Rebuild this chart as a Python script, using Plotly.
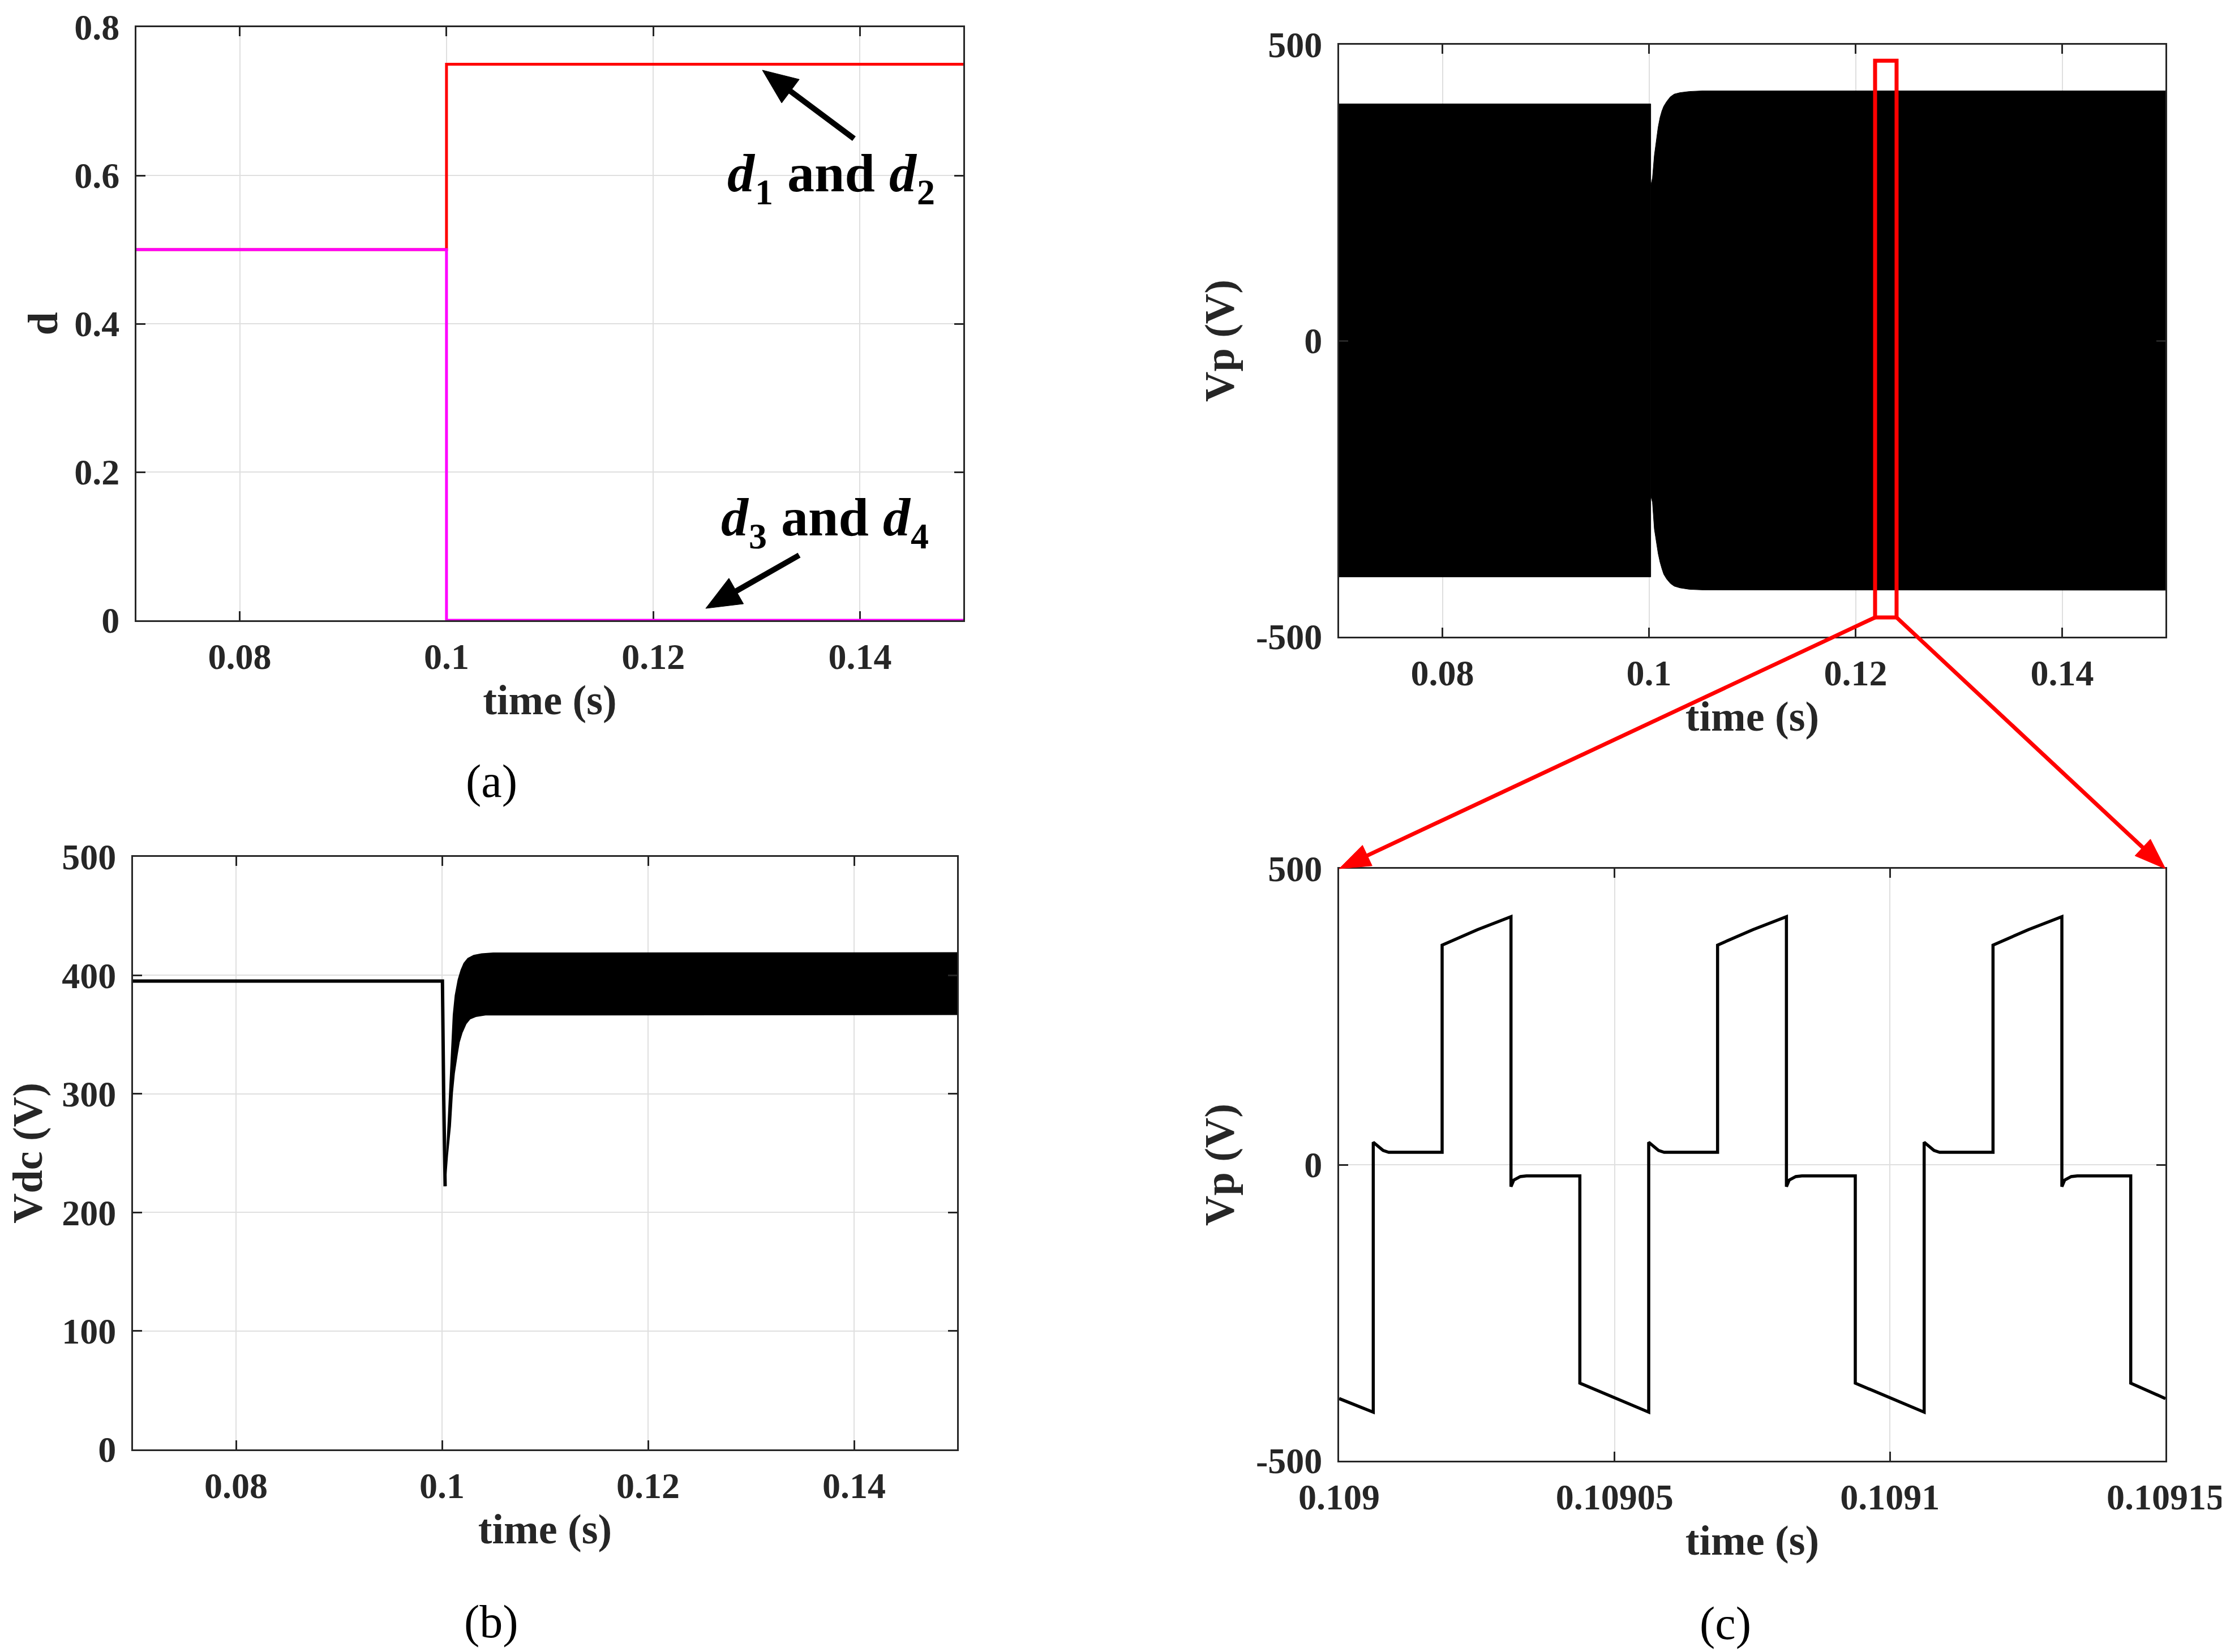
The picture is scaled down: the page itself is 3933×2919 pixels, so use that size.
import math
import plotly.graph_objects as go

# ---------------- data ----------------
# (a) duty cycles
t_a = [0.07, 0.1, 0.1, 0.15]
d12 = [0.5, 0.5, 0.75, 0.75]
d34 = [0.5, 0.5, 0.0, 0.0]

# (b) DC-link voltage: flat part + dip, then ripple envelope
t_vdc_line = [0.07, 0.10004, 0.10016, 0.10030]
vdc_line = [395.2, 395.2, 300.0, 222.0]
t_vdc_up = [0.10030, 0.100528, 0.100717, 0.100907, 0.101096, 0.101285, 0.101569,
            0.101853, 0.102136, 0.102515, 0.103082, 0.103839, 0.104974, 0.15]
vdc_up = [222.0, 264.7, 300.4, 338.7, 366.6, 383.1, 396.2, 404.5, 410.2, 414.3,
          416.8, 418.1, 418.8, 419.0]
t_vdc_lo = [0.10030, 0.100528, 0.100812, 0.101001, 0.101190, 0.101474, 0.101663,
            0.101947, 0.102325, 0.102704, 0.103272, 0.104218, 0.15]
vdc_lo = [222.0, 248.2, 272.9, 300.4, 317.3, 333.7, 343.6, 351.8, 359.2, 363.3,
          365.3, 366.6, 367.0]

# top right: Vp envelope (before and after the step)
t_vp_pre = [0.07, 0.10017]
vp_pre_up = [400.0, 400.0]
vp_pre_lo = [-399.0, -399.0]
t_vp_post = [0.10017, 0.10034, 0.10052, 0.10070, 0.10089, 0.10107, 0.10125, 0.10143,
             0.10171, 0.10207, 0.10244, 0.10299, 0.10390, 0.10518, 0.15]
vp_post_up = [262.0, 275.0, 313.0, 338.0, 361.0, 377.0, 388.0, 396.0, 404.0, 412.0,
              416.5, 419.0, 421.0, 422.0, 422.0]
vp_post_lo = [-262.0, -273.0, -318.0, -340.0, -359.5, -374.0, -385.0, -394.5, -402.5,
              -410.0, -414.6, -417.5, -420.0, -421.0, -421.5]

# zoom window drawn on the top-right panel [t0, t1, v0, v1]
zoom_window = [0.12189, 0.12397, -467.5, 473.0]

# (c) zoomed Vp waveform
t_c = [0.1090000, 0.1090062, 0.1090062, 0.1090070, 0.1090080, 0.1090090, 0.1090187,
       0.1090187, 0.1090251, 0.1090312, 0.1090312, 0.1090317, 0.1090329, 0.1090340,
       0.1090437, 0.1090437, 0.1090500,
       0.1090562, 0.1090562, 0.1090570, 0.1090580, 0.1090590, 0.1090687,
       0.1090687, 0.1090751, 0.1090812, 0.1090812, 0.1090817, 0.1090829, 0.1090840,
       0.1090937, 0.1090937, 0.1091000,
       0.1091062, 0.1091062, 0.1091070, 0.1091080, 0.1091090, 0.1091187,
       0.1091187, 0.1091251, 0.1091312, 0.1091312, 0.1091317, 0.1091329, 0.1091340,
       0.1091437, 0.1091437, 0.1091500]
vp_c = [-395, -418, 38, 31, 24, 21, 21,
        371, 397, 419, -37, -26, -20, -19,
        -19, -369, -394,
        -418, 38, 31, 24, 21, 21,
        371, 397, 419, -37, -26, -20, -19,
        -19, -369, -394,
        -418, 38, 31, 24, 21, 21,
        371, 397, 419, -37, -26, -20, -19,
        -19, -369, -395]

# annotation arrows in panel (a): (head t, head d, tail t, tail d)
arrow_d12 = (0.13056, 0.742, 0.13943, 0.6496)
arrow_d34 = (0.12508, 0.016, 0.13412, 0.0878)
# label anchors in panel (a): (left t, centre d, subscript a, subscript b)
label_d12 = (0.12706, 0.6034, "1", "2")
label_d34 = (0.12645, 0.1392, "3", "4")

# tick labels
x_ticks_main = [0.08, 0.1, 0.12, 0.14]
x_ticktext_main = ["0.08", "0.1", "0.12", "0.14"]
y_ticks_a = [0, 0.2, 0.4, 0.6, 0.8]
y_ticktext_a = ["0", "0.2", "0.4", "0.6", "0.8"]
y_ticks_b = [0, 100, 200, 300, 400, 500]
y_ticktext_b = ["0", "100", "200", "300", "400", "500"]
y_ticks_vp = [-500, 0, 500]
y_ticktext_vp = ["-500", "0", "500"]
x_ticks_c = [0.109, 0.10905, 0.1091, 0.10915]
x_ticktext_c = ["0.109", "0.10905", "0.1091", "0.10915"]

# ---------------- layout constants ----------------
W, H = 3933, 2919
FONT = "Liberation Serif"
AX = "#262626"
GRID = "#DFDFDF"
TICK_SIZE = 64
TITLE_SIZE = 74
# plot boxes in pixels: left, right, top, bottom
BOX_A = (233, 1694, 40, 1088)
BOX_TR = (2358, 3818, 71, 1117)
BOX_B = (227, 1683, 1506, 2553)
BOX_C = (2358, 3818, 1527, 2573)

RANGE_X_MAIN = [0.07, 0.15]
RANGE_X_C = [0.109, 0.10915]
RANGE_Y_A = [0, 0.8]
RANGE_Y_VP = [-500, 500]


def dom_x(box):
    return [box[0] / W, box[1] / W]


def dom_y(box):
    return [1 - box[3] / H, 1 - box[2] / H]


def to_px(box, xr, yr, x, y):
    px = box[0] + (x - xr[0]) / (xr[1] - xr[0]) * (box[1] - box[0])
    py = box[3] - (y - yr[0]) / (yr[1] - yr[0]) * (box[3] - box[2])
    return px, py


fig = go.Figure()

# (a)
fig.add_trace(go.Scatter(x=t_a, y=d12, mode="lines", line=dict(color="#FF0000", width=5),
                         xaxis="x", yaxis="y", showlegend=False))
fig.add_trace(go.Scatter(x=t_a, y=d34, mode="lines", line=dict(color="#FF00FF", width=5),
                         xaxis="x", yaxis="y", showlegend=False))

# top right (Vp)
fig.add_trace(go.Scatter(x=t_vp_pre + t_vp_pre[::-1], y=vp_pre_up + vp_pre_lo[::-1],
                         fill="toself", fillcolor="#000000", mode="lines",
                         line=dict(color="#000000", width=1), xaxis="x2", yaxis="y2",
                         showlegend=False))
fig.add_trace(go.Scatter(x=t_vp_post + t_vp_post[::-1], y=vp_post_up + vp_post_lo[::-1],
                         fill="toself", fillcolor="#000000", mode="lines",
                         line=dict(color="#000000", width=1), xaxis="x2", yaxis="y2",
                         showlegend=False))

# (b)
fig.add_trace(go.Scatter(x=t_vdc_up + t_vdc_lo[::-1], y=vdc_up + vdc_lo[::-1],
                         fill="toself", fillcolor="#000000", mode="lines",
                         line=dict(color="#000000", width=2), xaxis="x3", yaxis="y3",
                         showlegend=False))
fig.add_trace(go.Scatter(x=t_vdc_line, y=vdc_line, mode="lines",
                         line=dict(color="#000000", width=6), xaxis="x3", yaxis="y3",
                         showlegend=False))

# (c)
fig.add_trace(go.Scatter(x=t_c, y=vp_c, mode="lines", line=dict(color="#000000", width=5.5),
                         xaxis="x4", yaxis="y4", showlegend=False))


def axis(dom, rng, tickvals, ticktext, anchor, title, is_x, title_standoff,
         layer="above traces"):
    return dict(domain=dom, range=rng, tickvals=tickvals, ticktext=ticktext, anchor=anchor,
                automargin=False, showline=True, linecolor=AX, linewidth=3, mirror="ticks",
                ticks="inside", ticklen=16, tickwidth=3, tickcolor=AX, showgrid=True,
                gridcolor=GRID, gridwidth=2, zeroline=False, layer=layer,
                ticklabelstandoff=6 if is_x else 14,
                tickfont=dict(family=FONT, size=TICK_SIZE, color=AX, weight="bold"),
                title=dict(text=title, standoff=title_standoff,
                           font=dict(family=FONT, size=TITLE_SIZE, color=AX, weight="bold")))


layout = dict(
    width=W, height=H, margin=dict(l=0, r=0, t=0, b=0, autoexpand=False),
    paper_bgcolor="white", plot_bgcolor="white", showlegend=False,
    xaxis=axis(dom_x(BOX_A), RANGE_X_MAIN, x_ticks_main, x_ticktext_main, "y", "time (s)", True,
               16, "below traces"),
    yaxis=axis(dom_y(BOX_A), RANGE_Y_A, y_ticks_a, y_ticktext_a, "x", "d", False, 6,
               "below traces"),
    xaxis2=axis(dom_x(BOX_TR), RANGE_X_MAIN, x_ticks_main, x_ticktext_main, "y2", "time (s)",
                True, 16),
    yaxis2=axis(dom_y(BOX_TR), RANGE_Y_VP, y_ticks_vp, y_ticktext_vp, "x2", "Vp (V)", False, 14),
    xaxis3=axis(dom_x(BOX_B), RANGE_X_MAIN, x_ticks_main, x_ticktext_main, "y3", "time (s)",
                True, 16),
    yaxis3=axis(dom_y(BOX_B), [0, 500], y_ticks_b, y_ticktext_b, "x3", "Vdc (V)", False, 32),
    xaxis4=axis(dom_x(BOX_C), RANGE_X_C, x_ticks_c, x_ticktext_c, "y4", "time (s)", True, 16),
    yaxis4=axis(dom_y(BOX_C), RANGE_Y_VP, y_ticks_vp, y_ticktext_vp, "x4", "Vp (V)", False, 14),
)
fig.update_layout(**layout)

# red zoom window on the top-right panel
fig.add_shape(type="rect", xref="x2", yref="y2", x0=zoom_window[0], x1=zoom_window[1],
              y0=zoom_window[2], y1=zoom_window[3], line=dict(color="#FF0000", width=7))


def add_arrow(tail, head, color, width, head_len, head_w):
    """Arrow drawn as a paper-coordinate line plus a filled triangular head (pixel inputs)."""
    dx, dy = head[0] - tail[0], head[1] - tail[1]
    L = math.hypot(dx, dy)
    ux, uy = dx / L, dy / L
    bx, by = head[0] - ux * head_len, head[1] - uy * head_len
    px_, py_ = -uy, ux
    fig.add_shape(type="line", xref="paper", yref="paper",
                  x0=tail[0] / W, y0=1 - tail[1] / H,
                  x1=(bx + ux * 4) / W, y1=1 - (by + uy * 4) / H,
                  line=dict(color=color, width=width))
    pts = [head, (bx + px_ * head_w / 2, by + py_ * head_w / 2),
           (bx - px_ * head_w / 2, by - py_ * head_w / 2)]
    path = "M " + " L ".join(f"{p[0] / W:.6f},{1 - p[1] / H:.6f}" for p in pts) + " Z"
    fig.add_shape(type="path", xref="paper", yref="paper", path=path,
                  fillcolor=color, line=dict(color=color, width=1))


# black arrows in panel (a)
for a in (arrow_d12, arrow_d34):
    head = to_px(BOX_A, RANGE_X_MAIN, RANGE_Y_A, a[0], a[1])
    tail = to_px(BOX_A, RANGE_X_MAIN, RANGE_Y_A, a[2], a[3])
    add_arrow(tail, head, "#000000", 10, 62, 52)

# red connector arrows from zoom window to panel (c)
tail_l = to_px(BOX_TR, RANGE_X_MAIN, RANGE_Y_VP, zoom_window[0], zoom_window[2])
tail_r = to_px(BOX_TR, RANGE_X_MAIN, RANGE_Y_VP, zoom_window[1], zoom_window[2])
head_l = to_px(BOX_C, RANGE_X_C, RANGE_Y_VP, RANGE_X_C[0], RANGE_Y_VP[1])
head_r = to_px(BOX_C, RANGE_X_C, RANGE_Y_VP, RANGE_X_C[1], RANGE_Y_VP[1])
add_arrow(tail_l, head_l, "#FF0000", 7, 55, 40)
add_arrow(tail_r, head_r, "#FF0000", 7, 55, 40)

annotations = []


def label(text, px, py, size):
    annotations.append(dict(text=text, x=px / W, y=1 - py / H, xref="paper", yref="paper",
                            xanchor="center", yanchor="middle", showarrow=False,
                            font=dict(family=FONT, size=size, color="#000000")))


# panel labels
label("(a)", 860, 1372, 82)
label("(b)", 860, 2857, 82)
label("(c)", 3040, 2860, 82)

# "d_i and d_j" labels in panel (a), composed piece by piece (pixel offsets)
MAIN = 96
SUB = 64
for lab in (label_d12, label_d34):
    pieces = [("<i>d</i>", 0, 0, MAIN),
              (lab[2], 49, -34, SUB),
              ("and", 106, 0, MAIN),
              ("<i>d</i>", 286, 0, MAIN),
              (lab[3], 335, -34, SUB)]
    for text, dx, dy, size in pieces:
        annotations.append(dict(text=text, x=lab[0], y=lab[1], xref="x", yref="y",
                                xshift=dx, yshift=dy, showarrow=False, xanchor="left",
                                yanchor="middle",
                                font=dict(family=FONT, size=size, color="#000000",
                                          weight="bold")))

fig.update_layout(annotations=annotations)
fig.write_html("out.html")
